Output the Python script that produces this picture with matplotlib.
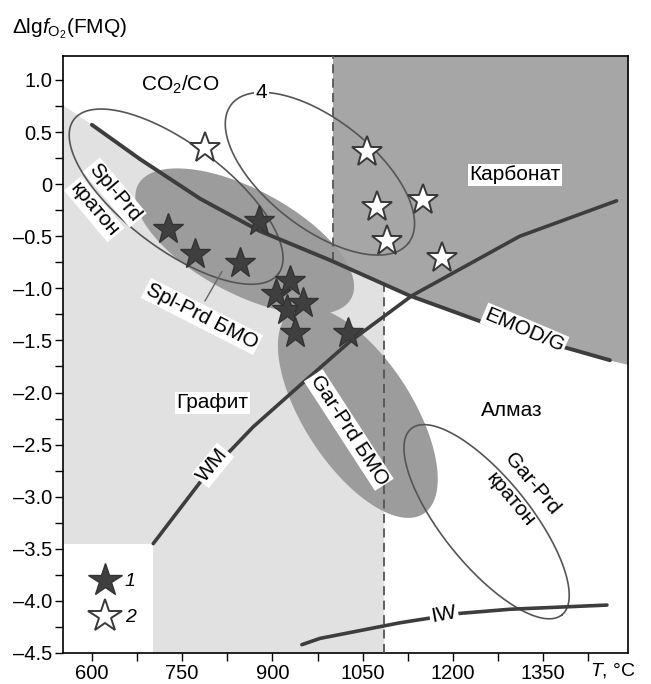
import numpy as np
import matplotlib
matplotlib.use('Agg')
from matplotlib import pyplot as plt
from matplotlib.lines import Line2D
from matplotlib.patches import Rectangle
from matplotlib.ticker import FuncFormatter, MultipleLocator

plt.rcParams['font.family'] = 'Liberation Sans'
plt.rcParams['mathtext.fontset'] = 'custom'
plt.rcParams['mathtext.rm'] = 'Liberation Sans'
plt.rcParams['mathtext.it'] = 'Liberation Sans:italic'

# buffer curves, T in °C vs ΔlgfO2 relative to FMQ
emod_t = [552, 600, 680, 780, 879, 996, 1128, 1290, 1461, 1491]
emod_y = [0.76, 0.57, 0.24, -0.14, -0.45, -0.73, -1.07, -1.41, -1.69, -1.73]
wm_t = [702, 780, 868, 946, 1029, 1132, 1311, 1472]
wm_y = [-3.45, -2.86, -2.33, -1.93, -1.51, -1.07, -0.50, -0.16]
iw_t = [949, 979, 1112, 1211, 1295, 1456]
iw_y = [-4.42, -4.36, -4.21, -4.12, -4.08, -4.04]

# field borders (°C)
carb_t = 1000
diam_t = 1085

# samples: 1 - filled stars, 2 - open stars
s1_t = [726, 771, 846, 878, 906, 929, 924, 951, 937, 1025]
s1_y = [-0.43, -0.67, -0.76, -0.35, -1.05, -0.93, -1.21, -1.14, -1.43, -1.43]
s2_t = [788, 1057, 1074, 1150, 1090, 1182]
s2_y = [0.35, 0.31, -0.22, -0.15, -0.55, -0.71]

# fields as ellipses: centre T, centre y, semi-axes (log units), tilt
spl_bmo = (854, -0.55, 1.16, 0.50, -28)
gar_bmo = (1042, -2.19, 1.16, 0.52, -57)
spl_kraton = (740, -0.12, 1.23, 0.50, -37)
field4 = (979, 0.10, 1.08, 0.52, -38)
gar_kraton = (1256, -3.24, 1.15, 0.42, -51)

xlim = (552, 1491)
ylim = (-4.5, 1.23)
T_PER_UNIT = 173.0  # °C per log unit at equal screen length

LIGHT = '#e1e1e1'
MID = '#9c9c9c'
CARB = '#a6a6a6'
LINE = '#3d3d3d'
OUTL = '#555555'
FS = 15


def ellipse_xy(tc, yc, a, b, angle, n=240):
    t = np.linspace(0, 2 * np.pi, n)
    th = np.deg2rad(angle)
    du, dv = a * np.cos(t), b * np.sin(t)
    dx = du * np.cos(th) - dv * np.sin(th)
    dy = du * np.sin(th) + dv * np.cos(th)
    return tc + dx * T_PER_UNIT, yc + dy


def label(x, y, s, rot=0, box=True, **kw):
    bbox = dict(boxstyle='square,pad=0.08', fc='white', ec='none') if box else None
    ax.text(x, y, s, rotation=rot, rotation_mode='anchor', ha='center', va='center',
            fontsize=FS, bbox=bbox, zorder=10, **kw)


fig = plt.figure(figsize=(6.51, 6.84), dpi=100)
ax = fig.add_axes([63 / 651, 31 / 684, 565 / 651, 597 / 684])
ax.set_xlim(*xlim)
ax.set_ylim(*ylim)

et = np.array(emod_t, float)
ey = np.array(emod_y, float)

# graphite field: below EMOD/G, left of the diamond border
y_diam = np.interp(diam_t, et, ey)
m = et < diam_t
gt = np.r_[et[m], diam_t]
gy = np.r_[ey[m], y_diam]
ax.fill_between(gt, ylim[0], gy, color=LIGHT, lw=0, zorder=1)
ax.add_patch(Rectangle((xlim[0], ylim[0]), wm_t[0] - xlim[0], wm_y[0] - ylim[0],
                       fc='white', ec='none', zorder=1.5))

# carbonate field: above EMOD/G, right of its border
y_carb = np.interp(carb_t, et, ey)
m = et > carb_t
ct = np.r_[carb_t, et[m]]
cy = np.r_[y_carb, ey[m]]
ax.fill_between(ct, cy, ylim[1], color=CARB, lw=0, zorder=1)

for e in (spl_bmo, gar_bmo):
    ex, ey_ = ellipse_xy(*e)
    ax.fill(ex, ey_, color=MID, lw=0, zorder=2)

ax.plot([carb_t, carb_t], [y_carb, ylim[1]], color='#555555', lw=1.3,
        ls=(0, (5, 3)), zorder=3)
ax.plot([diam_t, diam_t], [ylim[0], y_diam], color='#555555', lw=1.3,
        ls=(0, (5, 3)), zorder=3)

for e in (spl_kraton, field4, gar_kraton):
    ex, ey_ = ellipse_xy(*e)
    ax.plot(ex, ey_, color=OUTL, lw=1.2, zorder=4)

ax.plot(emod_t[1:-1], emod_y[1:-1], color=LINE, lw=2.8, solid_capstyle='round', zorder=5)
ax.plot(wm_t, wm_y, color=LINE, lw=2.6, solid_capstyle='round', zorder=5)
ax.plot(iw_t, iw_y, color=LINE, lw=2.6, solid_capstyle='round', zorder=5)

# leader from the Spl-Prd БМО label
ax.plot([816, 788], [-0.84, -1.12], color='#666666', lw=1.0, zorder=4)

ax.plot(s1_t, s1_y, ls='none', marker='*', ms=23, mfc='#3f3f3f', mec='#333333',
        mew=1.0, zorder=6)
ax.plot(s2_t, s2_y, ls='none', marker='*', ms=23, mfc='white', mec='#383838',
        mew=1.4, zorder=6)

label(746, 0.95, 'CO$_2$/CO', box=False)
label(882, 0.88, '4')
label(1303, 0.09, 'Карбонат')
label(638, -0.08, 'Spl-Prd', rot=-50)
label(604, -0.24, 'кратон', rot=-50)
label(783, -1.27, 'Spl-Prd БМО', rot=-27)
label(800, -2.10, 'Графит')
label(801, -2.70, 'WM', rot=51)
label(1027, -2.36, 'Gar-Prd БМО', rot=-57)
label(1319, -1.40, 'EMOD/G', rot=-23)
label(1298, -2.17, 'Алмаз')
label(1331, -2.88, 'Gar-Prd', rot=-50, box=False)
label(1296, -3.03, 'кратон', rot=-50, box=False)
label(1185, -4.13, 'IW', rot=10)

leg_handles = [
    Line2D([], [], ls='none', marker='*', ms=25, mfc='#3f3f3f', mec='#333333', mew=1.0),
    Line2D([], [], ls='none', marker='*', ms=25, mfc='white', mec='#383838', mew=1.4),
]
ax.legend(leg_handles, ['1', '2'], loc='lower left', bbox_to_anchor=(0.03, 0.025),
          frameon=False, prop={'style': 'italic', 'size': 14}, handlelength=1.4,
          handletextpad=0.3, labelspacing=0.95, borderaxespad=0.2)

ax.xaxis.set_major_locator(MultipleLocator(150))
ax.xaxis.set_minor_locator(MultipleLocator(75))
ax.yaxis.set_major_locator(MultipleLocator(0.5))
ax.yaxis.set_minor_locator(MultipleLocator(0.25))
ax.yaxis.set_major_formatter(FuncFormatter(
    lambda v, p: '0' if abs(v) < 1e-9 else f'{v:.1f}'.replace('-', '\u2013')))
ax.xaxis.set_major_formatter(FuncFormatter(lambda v, p: f'{v:.0f}' if v < 1400 else ''))
ax.tick_params(which='both', direction='out', length=6, width=1.0, labelsize=14.5,
               top=False, right=False, pad=2)
for sp in ax.spines.values():
    sp.set_linewidth(1.2)

fig.text(12 / 651, 1 - 33 / 684, r'$\Delta$lg$f_{\mathrm{O}_2}$(FMQ)', fontsize=15,
         va='baseline', ha='left')
fig.text(590 / 651, 1 - 676 / 684, r'$T$, °C', fontsize=14, va='baseline', ha='left')

fig.savefig('out.png', dpi=100)
